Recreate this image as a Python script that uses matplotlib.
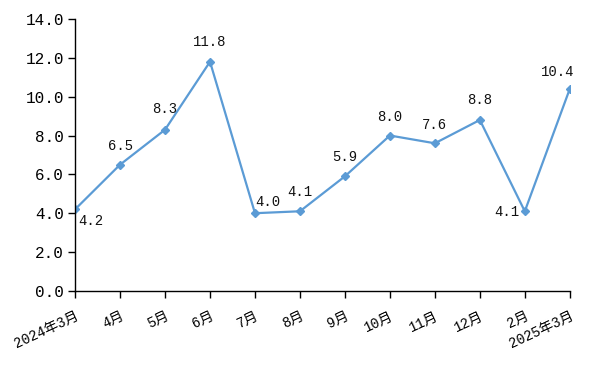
import matplotlib
matplotlib.use("Agg")
import matplotlib.pyplot as plt

categories = ["2024年3月", "4月", "5月", "6月", "7月", "8月", "9月", "10月", "11月", "12月", "2月", "2025年3月"]
values = [4.2, 6.5, 8.3, 11.8, 4.0, 4.1, 5.9, 8.0, 7.6, 8.8, 4.1, 10.4]
y_ticks = [0, 2, 4, 6, 8, 10, 12, 14]
# label offsets in pixels (dx, dy)
label_offsets = [(16, -12), (0, 19), (0, 21), (0, 20), (13, 11), (0, 19), (0, 19), (0, 19), (0, 18), (0, 20), (-18, -1), (-12, 17)]

plt.rcParams['font.family'] = ['Liberation Mono', 'Noto Sans CJK SC', 'DejaVu Sans']
fig = plt.figure(figsize=(5.96, 3.65), dpi=100)
ax = fig.add_axes([0.126, 0.203, 0.830, 0.745])
color = "#5B9BD5"
x = list(range(len(categories)))
ax.plot(x, values, color=color, lw=1.6, marker="D", ms=4, mfc=color, mec=color)
for xi, v, (dx, dy) in zip(x, values, label_offsets):
    ax.annotate(f"{v:.1f}", (xi, v), xytext=(dx, dy), textcoords="offset pixels",
                ha="center", va="center", fontsize=10, color="#111111")
ax.set_xlim(0, len(categories) - 1)
ax.set_ylim(0, 14)
ax.set_yticks(y_ticks)
ax.set_yticklabels([f"{t:.1f}" for t in y_ticks], fontsize=11.5)
ax.set_xticks(x)
ax.set_xticklabels(categories, rotation=25, ha="right", rotation_mode="anchor", fontsize=10)
ax.tick_params(axis="x", length=5, width=1, pad=8)
ax.tick_params(axis="y", length=5, width=1, pad=3)
for s in ["top", "right"]:
    ax.spines[s].set_visible(False)
for s in ["left", "bottom"]:
    ax.spines[s].set_color("black")
    ax.spines[s].set_linewidth(1)
fig.savefig("out.png", dpi=100)
